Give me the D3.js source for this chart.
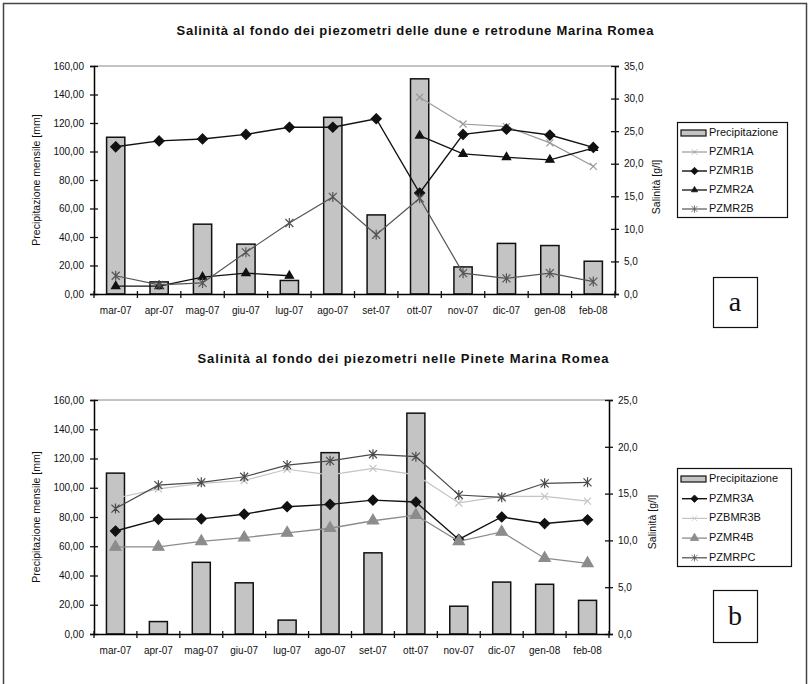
<!DOCTYPE html>
<html>
<head>
<meta charset="utf-8">
<script src="https://cdn.jsdelivr.net/npm/d3@7"></script>
<style>
  body { margin: 0; background: #fff; }
  text { font-family: "Liberation Sans", Arial, sans-serif; fill: #111; }
</style>
</head>
<body>
<script>
/* global d3 */

// months on the x axis
const months = ['mar-07', 'apr-07', 'mag-07', 'giu-07', 'lug-07', 'ago-07',
  'set-07', 'ott-07', 'nov-07', 'dic-07', 'gen-08', 'feb-08']

// monthly rain (mm), same in both panels
const precip = [110, 8.5, 49, 35, 9.5, 124, 55.5, 151, 19, 35.5, 34, 23]

// panel a - salinity g/l
const pzmr1a = [null, null, null, null, null, null, null, 30.2, 26.1, 25.7, 23.2, 19.6]
const pzmr1b = [22.6, 23.5, 23.8, 24.5, 25.6, 25.6, 26.9, 15.5, 24.5, 25.3, 24.4, 22.5]
const pzmr2a = [1.2, 1.2, 2.6, 3.2, 2.8, null, null, 24.3, 21.5, 21.0, 20.6, 22.4]
const pzmr2b = [2.8, 1.4, 1.7, 6.4, 10.9, 14.9, 9.1, 14.7, 3.2, 2.4, 3.2, 1.9]

// panel b - salinity g/l
const pzmr3a = [11.0, 12.25, 12.3, 12.8, 13.6, 13.85, 14.3, 14.1, 10.1, 12.5, 11.8, 12.2]
const pzbmr3b = [14.5, 15.5, 16.1, 16.4, 17.6, 17.0, 17.7, 17.0, 14.0, 14.7, 14.7, 14.2]
const pzmr4b = [9.3, 9.3, 9.9, 10.3, 10.8, 11.3, 12.1, 12.7, 9.9, 10.9, 8.1, 7.55]
const pzmrpc = [13.4, 15.9, 16.2, 16.8, 18.05, 18.5, 19.2, 18.95, 14.85, 14.6, 16.1, 16.2]

const leftTicks = [0, 20, 40, 60, 80, 100, 120, 140, 160]

const W = 811, H = 684

const svg = d3.select('body').append('svg')
  .attr('width', W)
  .attr('height', H)

// outer frame (bottom edge is cut off in the picture)
svg.append('rect')
  .attr('x', 3.5).attr('y', 3.5)
  .attr('width', 803).attr('height', 700)
  .attr('fill', 'none')
  .attr('stroke', '#444')
  .attr('stroke-width', 1.5)

const fmt2 = d3.format('.2f')
const fmt1 = d3.format('.1f')
const comma = f => v => f(v).replace('.', ',')

// marker shapes
const marks = {
  diamond: 'M0,-5L5,0L0,5L-5,0Z',
  triangle: d3.symbol(d3.symbolTriangle, 30)(),
  bigtriangle: d3.symbol(d3.symbolTriangle, 55)(),
  cross: 'M-3.5,-3.5L3.5,3.5M-3.5,3.5L3.5,-3.5',
  star: 'M-4,-4L4,4M-4,4L4,-4M0,-5L0,5'
}

function panel (cfg) {
  const { left, right, top, bottom } = cfg
  const g = svg.append('g')

  const x = d3.scaleBand().domain(months).range([left, right])
  const yL = d3.scaleLinear().domain([0, 160]).range([bottom, top])
  const yR = d3.scaleLinear().domain([0, cfg.rmax]).range([bottom, top])

  g.append('text')
    .attr('x', cfg.titleX).attr('y', cfg.titleY)
    .attr('text-anchor', 'middle')
    .attr('textLength', cfg.titleLen)
    .attr('lengthAdjust', 'spacing')
    .style('font-weight', 'bold')
    .style('font-size', '13px')
    .text(cfg.title)

  // top border of plot
  g.append('line')
    .attr('x1', left).attr('x2', right)
    .attr('y1', top).attr('y2', top)
    .attr('stroke', '#888')

  // bars
  const bw = x.bandwidth() * 0.42
  g.selectAll('rect.bar').data(precip)
    .enter().append('rect')
    .attr('class', 'bar')
    .attr('x', (d, i) => x(months[i]) + (x.bandwidth() - bw) / 2)
    .attr('y', d => yL(d))
    .attr('width', bw)
    .attr('height', d => bottom - yL(d))
    .attr('fill', '#c4c4c4')
    .attr('stroke', '#111')
    .attr('stroke-width', 1.5)

  // lines
  cfg.series.forEach(s => {
    const pts = s.values.map((v, i) => ({ v, m: months[i] }))
    const line = d3.line()
      .defined(d => d.v != null)
      .x(d => x(d.m) + x.bandwidth() / 2)
      .y(d => yR(d.v))
    g.append('path')
      .datum(pts)
      .attr('d', line)
      .attr('fill', 'none')
      .attr('stroke', s.color)
      .attr('stroke-width', s.width)
    g.selectAll(null).data(pts.filter(d => d.v != null))
      .enter().append('path')
      .attr('d', marks[s.mark])
      .attr('transform', d => `translate(${x(d.m) + x.bandwidth() / 2},${yR(d.v)})`)
      .attr('fill', s.markFill ? s.color : 'none')
      .attr('stroke', s.color)
      .attr('stroke-width', 1.2)
  })

  // left axis
  const ax = g.append('g')
    .attr('transform', `translate(${left},0)`)
    .call(d3.axisLeft(yL).tickValues(leftTicks).tickFormat(comma(fmt2)).tickSizeOuter(0).tickSize(4).tickPadding(6))
  ax.selectAll('.tick line').attr('x1', 4)
  ax.select('.domain').attr('stroke-width', 1.5)

  // right axis
  const rx = g.append('g')
    .attr('transform', `translate(${right},0)`)
    .call(d3.axisRight(yR).ticks(cfg.rmax / 5).tickFormat(comma(fmt1)).tickSizeOuter(0).tickSize(4).tickPadding(5))
  rx.selectAll('.tick line').attr('x1', -4)
  rx.select('.domain').attr('stroke-width', 1.5)

  // x axis: labels under each month, ticks on the band edges
  const bx = g.append('g')
    .attr('transform', `translate(0,${bottom})`)
    .call(d3.axisBottom(x).tickSize(0).tickPadding(13))
  bx.select('.domain').attr('stroke-width', 1.5)
  const edges = months.map(m => x(m) + x.step()).concat([left])
  g.selectAll(null).data(edges)
    .enter().append('line')
    .attr('x1', d => d).attr('x2', d => d)
    .attr('y1', bottom - 3).attr('y2', bottom + 4)
    .attr('stroke', '#111')
    .attr('stroke-width', 1.3)

  g.selectAll('.tick text').style('font-size', '10px').style('fill', '#111')
  g.selectAll('.tick line').attr('stroke', '#111').attr('stroke-width', 1.3)

  // axis titles
  g.append('text')
    .attr('transform', `translate(37,${(top + bottom) / 2}) rotate(-90)`)
    .attr('text-anchor', 'middle')
    .attr('dominant-baseline', 'middle')
    .style('font-size', '10.5px')
    .text('Precipitazione mensile [mm]')
  g.append('text')
    .attr('transform', `translate(${cfg.rTitleX},${cfg.rTitleY}) rotate(-90)`)
    .attr('text-anchor', 'middle')
    .attr('dominant-baseline', 'middle')
    .style('font-size', '10.5px')
    .text('Salinità [g/l]')

  // legend
  const lg = g.append('g')
  lg.append('rect')
    .attr('x', cfg.legend[0] + 0.5).attr('y', cfg.legend[1] + 0.5)
    .attr('width', cfg.legend[2]).attr('height', cfg.legend[3])
    .attr('fill', '#fff').attr('stroke', '#111').attr('stroke-width', 1.2)
  const items = [{ name: 'Precipitazione', bar: true }].concat(cfg.series)
  items.forEach((s, i) => {
    const yy = cfg.legend[1] + 11 + i * cfg.legendStep
    const x0 = cfg.legend[0] + 3
    if (s.bar) {
      lg.append('rect')
        .attr('x', x0 + 1).attr('y', yy - 3)
        .attr('width', 25).attr('height', 6)
        .attr('fill', '#c4c4c4').attr('stroke', '#111').attr('stroke-width', 1.2)
    } else {
      lg.append('line')
        .attr('x1', x0 + 2).attr('x2', x0 + 27)
        .attr('y1', yy).attr('y2', yy)
        .attr('stroke', s.color).attr('stroke-width', s.width)
      lg.append('path')
        .attr('d', marks[s.mark])
        .attr('transform', `translate(${x0 + 14.5},${yy}) scale(0.75)`)
        .attr('fill', s.markFill ? s.color : 'none')
        .attr('stroke', s.color)
    }
    lg.append('text')
      .attr('x', x0 + 29).attr('y', yy)
      .attr('dominant-baseline', 'middle')
      .style('font-size', '11px')
      .text(s.name)
  })

  // letter box
  const b = cfg.box
  g.append('rect')
    .attr('x', b[0] + 0.5).attr('y', b[1] + 0.5)
    .attr('width', b[2]).attr('height', b[3])
    .attr('fill', '#fff').attr('stroke', '#111').attr('stroke-width', 1.2)
  g.append('text')
    .attr('x', b[0] + b[2] / 2).attr('y', b[1] + b[3] / 2 + 9)
    .attr('text-anchor', 'middle')
    .style('font-family', '"Liberation Serif", "Times New Roman", serif')
    .style('font-size', '28px')
    .text(cfg.letter)
}

panel({
  left: 94, right: 615, top: 66, bottom: 294, rmax: 35,
  title: 'Salinità al fondo dei piezometri delle dune e retrodune Marina Romea',
  titleX: 415, titleY: 35, titleLen: 477,
  rTitleX: 657, rTitleY: 187,
  legend: [677, 122, 110, 95], legendStep: 19,
  box: [713, 277, 44, 50], letter: 'a',
  series: [
    { name: 'PZMR1A', values: pzmr1a, color: '#9a9a9a', width: 1.2, mark: 'cross' },
    { name: 'PZMR1B', values: pzmr1b, color: '#111', width: 1.4, mark: 'diamond', markFill: true },
    { name: 'PZMR2A', values: pzmr2a, color: '#111', width: 1.3, mark: 'triangle', markFill: true },
    { name: 'PZMR2B', values: pzmr2b, color: '#555', width: 1.2, mark: 'star' }
  ]
})

panel({
  left: 94, right: 609, top: 400, bottom: 634, rmax: 25,
  title: 'Salinità al fondo dei piezometri nelle Pinete Marina Romea',
  titleX: 403, titleY: 363, titleLen: 411,
  rTitleX: 653, rTitleY: 522,
  legend: [677, 468, 114, 98], legendStep: 19.7,
  box: [713, 590, 44, 52], letter: 'b',
  series: [
    { name: 'PZMR3A', values: pzmr3a, color: '#111', width: 1.4, mark: 'diamond', markFill: true },
    { name: 'PZBMR3B', values: pzbmr3b, color: '#c4c4c4', width: 1.2, mark: 'cross' },
    { name: 'PZMR4B', values: pzmr4b, color: '#8c8c8c', width: 1.3, mark: 'bigtriangle', markFill: true },
    { name: 'PZMRPC', values: pzmrpc, color: '#4a4a4a', width: 1.2, mark: 'star' }
  ]
})
</script>
</body>
</html>
